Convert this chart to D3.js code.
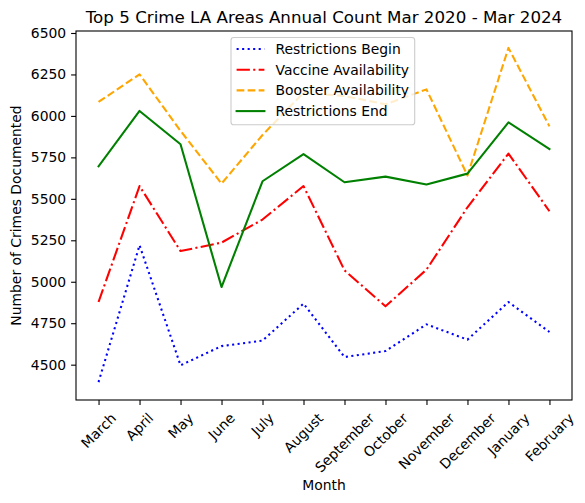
<!DOCTYPE html>
<html>
<head>
<meta charset="utf-8">
<script src="https://cdn.jsdelivr.net/npm/d3@7"></script>
<style>
    body { margin: 0; background: #ffffff; }
    text { font-family: "DejaVu Sans", sans-serif; fill: #000000; }
</style>
</head>
<body>
<div id="chart"></div>
<script>

// chart values
let months = ['March', 'April', 'May', 'June', 'July', 'August', 'September',
    'October', 'November', 'December', 'January', 'February'];

let restrictionsBegin = [4395, 5220, 4496, 4612, 4645, 4868, 4546, 4582, 4743, 4651, 4878, 4697];
let vaccineAvailability = [4878, 5577, 5185, 5236, 5375, 5577, 5069, 4852, 5073, 5449, 5773, 5425];
let boosterAvailability = [6084, 6251, 5910, 5592, 5885, 6140, 6120, 6070, 6160, 5640, 6410, 5937];
let restrictionsEnd = [5696, 6030, 5829, 4968, 5606, 5770, 5600, 5634, 5587, 5652, 5961, 5800];

let yTicks = [4500, 4750, 5000, 5250, 5500, 5750, 6000, 6250, 6500];

let seriesNames = ['Restrictions Begin', 'Vaccine Availability', 'Booster Availability', 'Restrictions End'];


const WIDTH = 585;
const HEIGHT = 503;
const plot = { left: 76, right: 572, top: 31, bottom: 400 };

// matplotlib-like line styles (lw 1.5pt at 100 dpi)
const styles = [
    { color: 'blue', dash: '2.08,3.44', cap: 'butt' },
    { color: 'red', dash: '13.3,3.33,2.08,3.33', cap: 'butt' },
    { color: 'orange', dash: '7.7,3.33', cap: 'butt' },
    { color: 'green', dash: null, cap: 'square' }
];


function createSVGViewbox(containerId, idSVGViewbox, width, height) {

    try {

        let svg = d3.select(containerId)
            .append('svg')
            .attr('width', width)
            .attr('height', height)
            .attr('viewBox', '0 0 ' + width + ' ' + height)
            .attr('id', idSVGViewbox);
        return svg;

    } catch (error) {

        console.log('Function: createSVGViewbox. Error: ' + error);
        return null;
    }
}


function drawAxes(svg, x, y) {

    try {

        // y axis
        let yAxis = d3.axisLeft(y)
            .tickValues(yTicks)
            .tickSize(4.9)
            .tickPadding(4.9)
            .tickFormat(d3.format('d'));

        let gy = svg.append('g')
            .attr('transform', 'translate(' + plot.left + ',0)')
            .call(yAxis);
        gy.select('.domain').remove();
        gy.selectAll('.tick line').attr('stroke', '#000').attr('stroke-width', 1.1);
        gy.selectAll('.tick text')
            .attr('font-size', '13.9px')
            .attr('font-family', 'DejaVu Sans');

        // x axis, labels rotated 45 deg with centered bounding box like matplotlib
        let xAxis = d3.axisBottom(x)
            .tickSize(4.9)
            .tickFormat('');

        let gx = svg.append('g')
            .attr('transform', 'translate(0,' + plot.bottom + ')')
            .call(xAxis);
        gx.select('.domain').remove();
        gx.selectAll('.tick line').attr('stroke', '#000').attr('stroke-width', 1.1);

        let labelTop = plot.bottom + 4.9 + 4.9;
        months.forEach(function (m) {
            let t = svg.append('text')
                .attr('font-size', '13.9px')
                .attr('text-anchor', 'middle')
                .attr('dominant-baseline', 'central')
                .text(m);
            let w = t.node().getComputedTextLength();
            let h = 16.2;
            let half = (w + h) * Math.SQRT1_2 / 2;
            t.attr('transform', 'translate(' + x(m) + ',' + (labelTop + half) + ') rotate(-45)');
        });

        // frame
        svg.append('rect')
            .attr('x', plot.left)
            .attr('y', plot.top)
            .attr('width', plot.right - plot.left)
            .attr('height', plot.bottom - plot.top)
            .attr('fill', 'none')
            .attr('stroke', '#000')
            .attr('stroke-width', 1.1);

    } catch (error) {

        console.log('Function: drawAxes. Error: ' + error);
    }
}


function drawLines(svg, x, y, data) {

    try {

        let line = d3.line()
            .x((d, i) => x(months[i]))
            .y(d => y(d));

        svg.append('g').selectAll('path')
            .data(data).enter()
            .append('path')
            .attr('d', d => line(d))
            .attr('fill', 'none')
            .attr('stroke', (d, i) => styles[i].color)
            .attr('stroke-width', 2.08)
            .attr('stroke-dasharray', (d, i) => styles[i].dash)
            .attr('stroke-linecap', (d, i) => styles[i].cap)
            .attr('stroke-linejoin', 'round');

    } catch (error) {

        console.log('Function: drawLines. Error: ' + error);
    }
}


function drawLegend(svg) {

    try {

        let boxX = 231;
        let boxY = 37.5;
        let rowH = 20.7;
        let pad = 5.6;

        let g = svg.append('g');
        let frame = g.append('rect')
            .attr('x', boxX)
            .attr('y', boxY)
            .attr('rx', 2.8)
            .attr('fill', '#ffffff')
            .attr('fill-opacity', 0.8)
            .attr('stroke', '#cccccc')
            .attr('stroke-width', 1.1);

        let maxW = 0;
        seriesNames.forEach(function (name, i) {
            let cy = boxY + 11.5 + i * rowH;
            g.append('line')
                .attr('x1', boxX + pad)
                .attr('x2', boxX + pad + 27.8)
                .attr('y1', cy)
                .attr('y2', cy)
                .attr('stroke', styles[i].color)
                .attr('stroke-width', 2.08)
                .attr('stroke-dasharray', styles[i].dash)
                .attr('stroke-linecap', styles[i].cap);
            let t = g.append('text')
                .attr('x', boxX + pad + 27.8 + 11.1)
                .attr('y', cy + 5)
                .attr('font-size', '13.9px')
                .text(name);
            maxW = Math.max(maxW, t.node().getComputedTextLength());
        });

        frame.attr('width', pad + 27.8 + 11.1 + maxW + pad)
            .attr('height', rowH * 4 + 4.5);

    } catch (error) {

        console.log('Function: drawLegend. Error: ' + error);
    }
}


let svg = createSVGViewbox('#chart', 'crimeChart', WIDTH, HEIGHT);

let x = d3.scalePoint()
    .domain(months)
    .range([plot.left, plot.right])
    .padding(0.55);

let y = d3.scaleLinear()
    .domain([4287, 6512])
    .range([plot.bottom, plot.top]);

drawLines(svg, x, y, [restrictionsBegin, vaccineAvailability, boosterAvailability, restrictionsEnd]);
drawAxes(svg, x, y);
drawLegend(svg);

// title and axis labels
svg.append('text')
    .attr('x', (plot.left + plot.right) / 2)
    .attr('y', 22.5)
    .attr('text-anchor', 'middle')
    .attr('font-size', '16.7px')
    .text('Top 5 Crime LA Areas Annual Count Mar 2020 - Mar 2024');

svg.append('text')
    .attr('x', (plot.left + plot.right) / 2)
    .attr('y', 490)
    .attr('text-anchor', 'middle')
    .attr('font-size', '13.9px')
    .text('Month');

svg.append('text')
    .attr('transform', 'translate(21,' + ((plot.top + plot.bottom) / 2) + ') rotate(-90)')
    .attr('text-anchor', 'middle')
    .attr('font-size', '13.9px')
    .text('Number of Crimes Documented');

</script>
</body>
</html>
